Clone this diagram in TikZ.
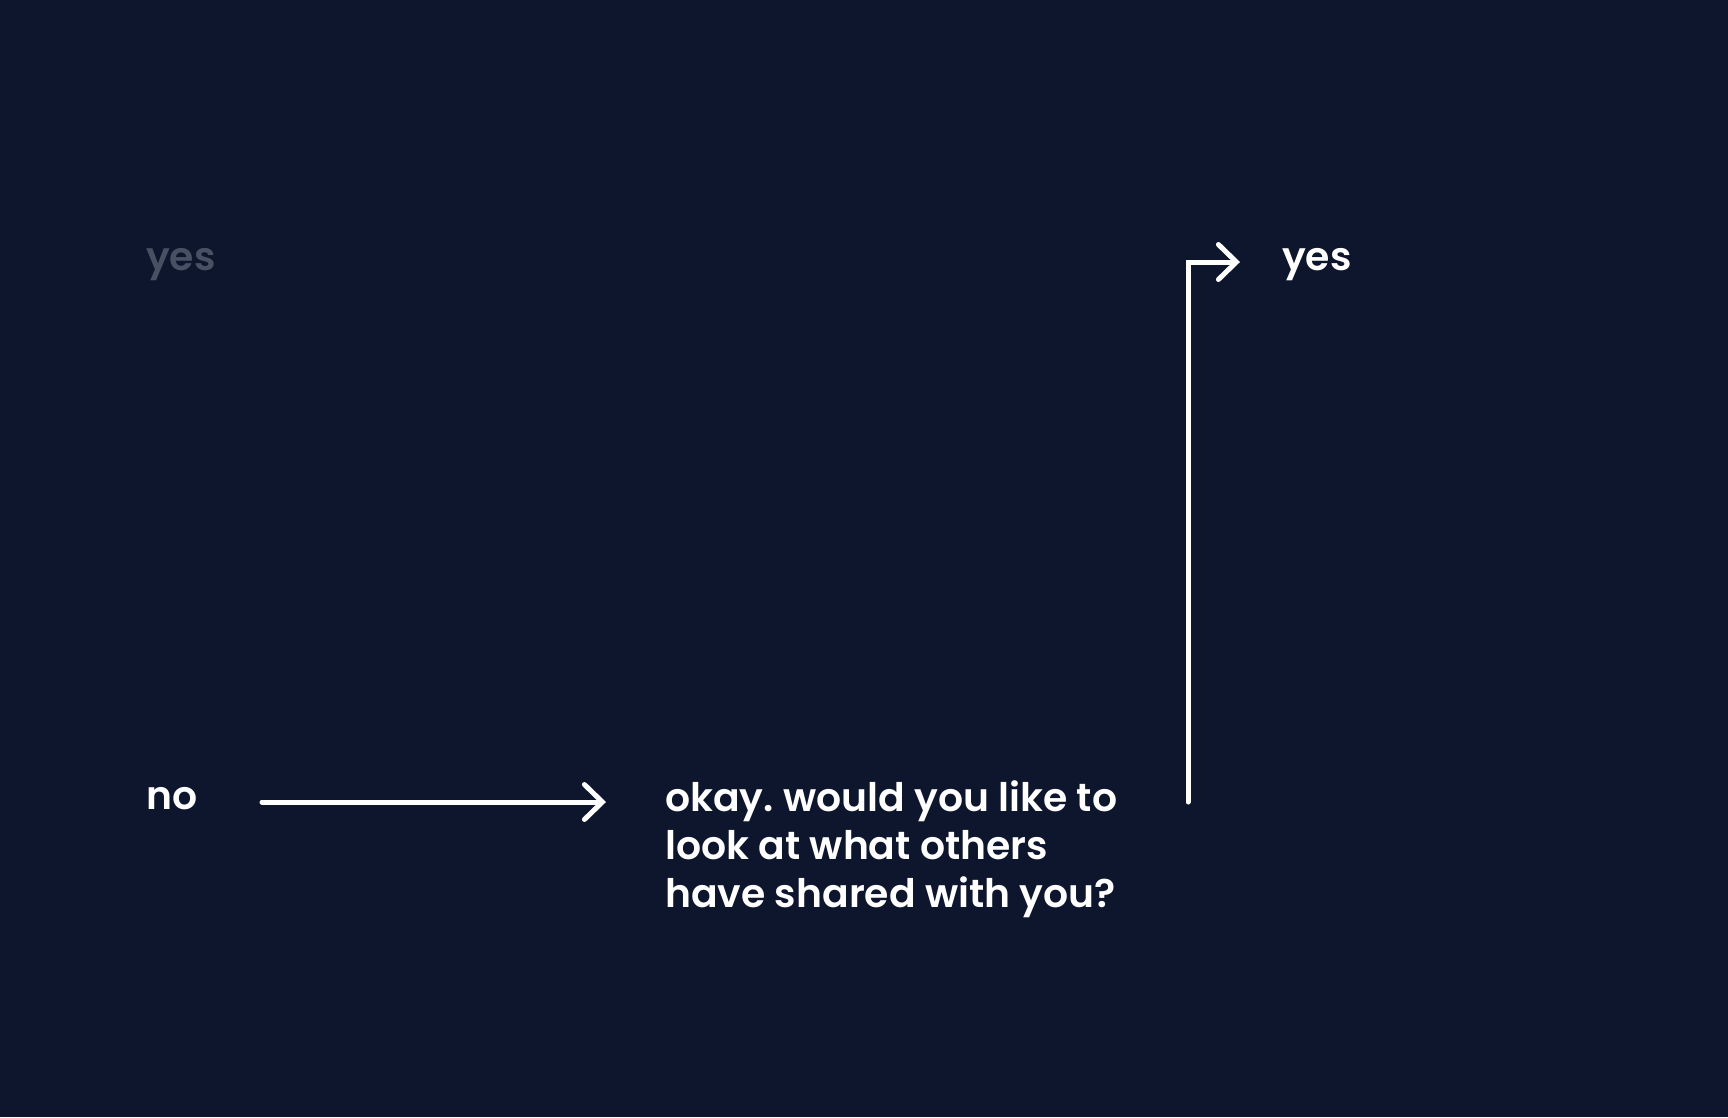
\documentclass[tikz,border=0pt]{standalone}
\usepackage{fontspec}
\setmainfont{Poppins SemiBold}
\frenchspacing
\usetikzlibrary{arrows.meta}
\definecolor{bg}{RGB}{14,22,46}
\definecolor{dim}{RGB}{72,80,100}
\tikzset{
  lbl/.style={anchor=base west, inner sep=0pt, text=white, font=\fontsize{39.3}{48}\selectfont},
  conn/.style={draw=white, line width=5pt, line cap=round, line join=miter,
    -{Straight Barb[length=18pt, width=35pt, line width=5pt, line cap=round]}}
}
\begin{document}
\begin{tikzpicture}[x=1pt, y=-1pt]
  \fill[bg] (0,0) rectangle (1728,1117);
  \useasboundingbox (0,0) rectangle (1728,1117);
  \node[lbl, text=dim] (yesdim) at (146,270) {yes};
  \node[lbl] (no) at (146,809) {no};
  \node[lbl, align=left, anchor=north west] (q) at (665,780)
    {okay. would you like to\\look at what others\\have shared with you?};
  \node[lbl] (yes) at (1282,270) {yes};
  \coordinate (bot) at (1188,802);
  \draw[conn] ([xshift=116pt, yshift=7pt]no.base west) -- ([xshift=-59pt]q.west |- bot);
  \draw[conn] (bot) |- ([xshift=-42pt, yshift=8pt]yes.base west);
\end{tikzpicture}
\end{document}
